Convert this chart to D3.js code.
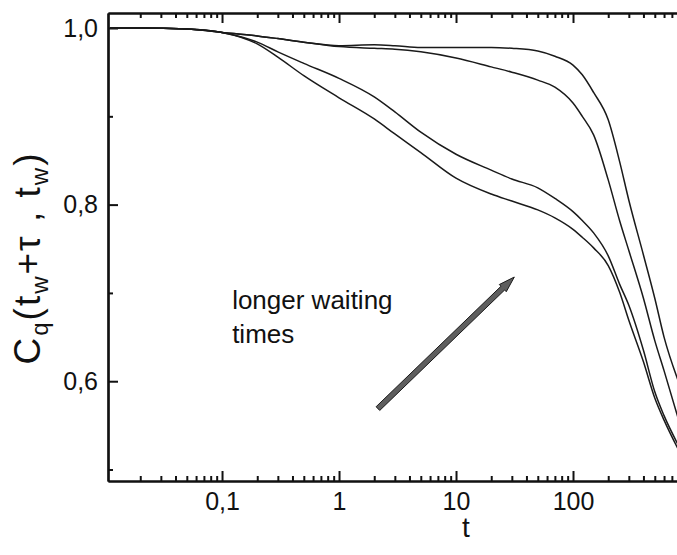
<!DOCTYPE html>
<html>
<head>
<meta charset="utf-8">
<script src="https://cdn.jsdelivr.net/npm/d3@7"></script>
<style>
  body { margin: 0; background: #fff; }
  svg { display: block; font-family: "Liberation Sans", Arial, sans-serif; }
  .axis path, .axis line { stroke: #111; }
  .axis path { stroke-width: 2.2; }
  .axis line { stroke-width: 2; }
  .axis text { font-size: 25px; fill: #111; }
</style>
</head>
<body>
<div id="chart"></div>
<script>
// waiting time curves
var times = [0.011, 0.02, 0.05, 0.1, 0.2, 0.3, 0.5, 1, 2, 3, 5, 10, 20, 30, 50, 70, 100, 120, 150, 200, 250, 300, 400, 500, 600, 800]
var curveA = [1.000, 1.000, 0.999, 0.995, 0.991, 0.988, 0.984, 0.980, 0.981, 0.980, 0.978, 0.978, 0.978, 0.977, 0.974, 0.968, 0.958, 0.947, 0.927, 0.896, 0.849, 0.805, 0.743, 0.694, 0.650, 0.599]
var curveB = [1.000, 1.000, 0.999, 0.995, 0.991, 0.988, 0.984, 0.979, 0.977, 0.976, 0.973, 0.966, 0.956, 0.950, 0.941, 0.933, 0.915, 0.900, 0.879, 0.828, 0.782, 0.748, 0.694, 0.646, 0.612, 0.556]
var curveC = [1.000, 1.000, 0.999, 0.995, 0.984, 0.973, 0.960, 0.943, 0.922, 0.905, 0.882, 0.857, 0.839, 0.829, 0.819, 0.807, 0.792, 0.782, 0.768, 0.742, 0.710, 0.686, 0.635, 0.588, 0.561, 0.527]
var curveD = [1.000, 1.000, 0.999, 0.995, 0.982, 0.967, 0.946, 0.921, 0.897, 0.880, 0.859, 0.830, 0.812, 0.804, 0.794, 0.785, 0.772, 0.763, 0.751, 0.731, 0.701, 0.669, 0.622, 0.581, 0.556, 0.522]

var xMajor = [0.1, 1, 10, 100]
var yMajor = [0.6, 0.8, 1.0]
var yMinor = [0.5, 0.7, 0.9]

// arrow + note, in data units
var arrowFrom = [2.15, 0.569]
var arrowTo = [31.5, 0.718]
var noteLines = ['longer waiting', 'times']

var W = 677, H = 555
var mL = 108, mR = 690, mT = 13, mB = 481

var x = d3.scaleLog().domain([0.0106, 1000]).range([mL, mR])
var y = d3.scaleLinear().domain([0.487, 1.017]).range([mB, mT])

var svg = d3.select('#chart').append('svg').attr('width', W).attr('height', H)
svg.append('rect').attr('width', W).attr('height', H).attr('fill', '#fff')

svg.append('clipPath').attr('id', 'clip')
	.append('rect').attr('x', mL).attr('y', mT).attr('width', mR - mL).attr('height', mB - mT)

// minor log ticks 2..9 in each decade
var xMinor = []
for (var e = -2; e <= 2; e++) {
	for (var k = 2; k <= 9; k++) {
		var v = k * Math.pow(10, e)
		if (v > 0.0106 && v < 1000) xMinor.push(v)
	}
}

var fmt = function (d) { return d >= 1 ? d3.format('d')(d) : String(d).replace('.', ',') }
var fmtY = function (d) { return d3.format('.1f')(d).replace('.', ',') }

// bottom
svg.append('g').attr('class', 'axis').attr('transform', 'translate(0,' + mB + ')')
	.call(d3.axisBottom(x).tickValues(xMinor).tickSizeInner(-5).tickSizeOuter(0).tickFormat(''))
svg.append('g').attr('class', 'axis').attr('transform', 'translate(0,' + mB + ')')
	.call(d3.axisBottom(x).tickValues(xMajor).tickSizeInner(-10).tickSizeOuter(0).tickPadding(11).tickFormat(fmt))
// top
svg.append('g').attr('class', 'axis').attr('transform', 'translate(0,' + mT + ')')
	.call(d3.axisTop(x).tickValues(xMinor).tickSizeInner(-5).tickSizeOuter(0).tickFormat(''))
svg.append('g').attr('class', 'axis').attr('transform', 'translate(0,' + mT + ')')
	.call(d3.axisTop(x).tickValues(xMajor).tickSizeInner(-10).tickSizeOuter(0).tickFormat(''))
// left
svg.append('g').attr('class', 'axis').attr('transform', 'translate(' + mL + ',0)')
	.call(d3.axisLeft(y).tickValues(yMinor).tickSizeInner(-5).tickSizeOuter(0).tickFormat(''))
svg.append('g').attr('class', 'axis').attr('transform', 'translate(' + mL + ',0)')
	.call(d3.axisLeft(y).tickValues(yMajor).tickSizeInner(-10).tickSizeOuter(0).tickPadding(10).tickFormat(fmtY))

// curves
var line = d3.line()
	.x(function (d) { return x(d[0]) })
	.y(function (d) { return y(d[1]) })
	.curve(d3.curveMonotoneX)

var series = [curveA, curveB, curveC, curveD]
svg.append('g').attr('clip-path', 'url(#clip)')
	.selectAll('path').data(series).enter().append('path')
	.attr('d', function (s) { return line(s.map(function (v, i) { return [times[i], v] })) })
	.attr('fill', 'none')
	.attr('stroke', '#1a1a1a')
	.attr('stroke-width', 1.5)

// arrow, drawn as a thin polygon along the direction
var x0 = x(arrowFrom[0]), y0 = y(arrowFrom[1]), x1 = x(arrowTo[0]), y1 = y(arrowTo[1])
var len = Math.hypot(x1 - x0, y1 - y0)
var ux = (x1 - x0) / len, uy = (y1 - y0) / len
var nx = -uy, ny = ux
var hw = 2.6, hh = 5, hl = 16
var pts = [
	[x0 + nx * hw, y0 + ny * hw],
	[x1 - ux * hl + nx * hw, y1 - uy * hl + ny * hw],
	[x1 - ux * hl + nx * hh, y1 - uy * hl + ny * hh],
	[x1, y1],
	[x1 - ux * hl - nx * hh, y1 - uy * hl - ny * hh],
	[x1 - ux * hl - nx * hw, y1 - uy * hl - ny * hw],
	[x0 - nx * hw, y0 - ny * hw]
]
svg.append('polygon')
	.attr('points', pts.map(function (p) { return p.join(',') }).join(' '))
	.attr('fill', '#5e5e5e')
	.attr('stroke', '#1a1a1a')
	.attr('stroke-width', 1)
	.attr('stroke-linejoin', 'round')

// note text
svg.append('g').selectAll('text').data(noteLines).enter().append('text')
	.attr('x', x(0.122))
	.attr('y', function (d, i) { return y(0.682) + i * 34 })
	.attr('font-size', 26)
	.attr('fill', '#111')
	.text(function (d) { return d })

// axis titles
svg.append('text').attr('x', 466).attr('y', 537).attr('text-anchor', 'middle')
	.attr('font-size', 28).attr('fill', '#111').text('t')

var yl = svg.append('text')
	.attr('transform', 'translate(40,258) rotate(-90)')
	.attr('text-anchor', 'middle')
	.attr('font-size', 37)
	.attr('fill', '#111')
	.attr('letter-spacing', 2)
yl.append('tspan').text('C')
yl.append('tspan').attr('font-size', 24).attr('dy', 8).text('q')
yl.append('tspan').attr('dy', -8).text('(t')
yl.append('tspan').attr('font-size', 24).attr('dy', 8).text('w')
yl.append('tspan').attr('dy', -8).text('+\u03c4 , t')
yl.append('tspan').attr('font-size', 24).attr('dy', 8).text('w')
yl.append('tspan').attr('dy', -8).text(')')
</script>
</body>
</html>
